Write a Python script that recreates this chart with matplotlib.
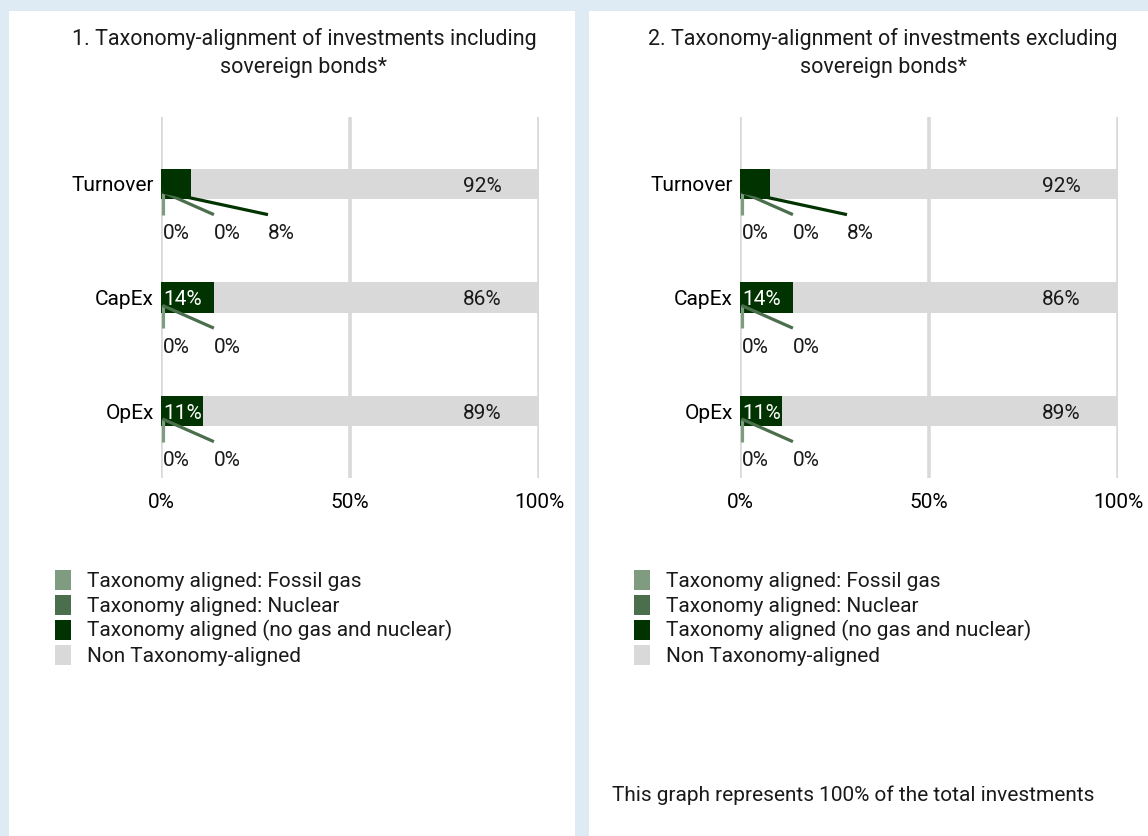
import numpy as np
import matplotlib
matplotlib.use('Agg')
import matplotlib.pyplot as plt
from matplotlib.patches import Rectangle, Patch

plt.rcParams['font.family'] = ['Roboto', 'DejaVu Sans']
plt.rcParams['font.size'] = 15
plt.rcParams['text.color'] = '#1a1a1a'

# data
categories = ['Turnover', 'CapEx', 'OpEx']
series_names = ['Taxonomy aligned: Fossil gas',
                'Taxonomy aligned: Nuclear',
                'Taxonomy aligned (no gas and nuclear)',
                'Non Taxonomy-aligned']
titles = ['1. Taxonomy-alignment of investments including\nsovereign bonds*',
          '2. Taxonomy-alignment of investments excluding\nsovereign bonds*']
# values in %, panel 1 (incl. sovereign bonds)
fossil_incl = [0, 0, 0]
nuclear_incl = [0, 0, 0]
aligned_incl = [8, 14, 11]
non_aligned_incl = [92, 86, 89]
# panel 2 (excl. sovereign bonds)
fossil_excl = [0, 0, 0]
nuclear_excl = [0, 0, 0]
aligned_excl = [8, 14, 11]
non_aligned_excl = [92, 86, 89]
footnote = 'This graph represents 100% of the total investments'

colors = ['#7f9c80', '#4b6f4c', '#003300', '#d9d9d9']
bg_blue = '#deebf5'

W, H = 1148, 836
fig = plt.figure(figsize=(W / 100, H / 100), dpi=100, facecolor=bg_blue)

# white panels (behind everything)
fig.patches.append(Rectangle((9 / W, 0), 566 / W, 825 / H, transform=fig.transFigure,
                             facecolor='white', edgecolor='none', zorder=-10))
fig.patches.append(Rectangle((589 / W, 0), 559 / W, 825 / H, transform=fig.transFigure,
                             facecolor='white', edgecolor='none', zorder=-10))

panels = [
    (161, titles[0], [fossil_incl, nuclear_incl, aligned_incl, non_aligned_incl]),
    (740, titles[1], [fossil_excl, nuclear_excl, aligned_excl, non_aligned_excl]),
]

# x positions (in %) of the labels pulled out of the bar with a leader line
out_slots = [0.4, 14, 28.3]

for x0, title, vals in panels:
    ax = fig.add_axes([x0 / W, 1 - 478 / H, 378 / W, 361 / H])
    ax.set_zorder(1)
    ax.set_facecolor('none')
    y = np.arange(len(categories))
    left = np.zeros(len(categories))
    for i, v in enumerate(vals):
        ax.barh(y, v, left=left, height=0.265, color=colors[i], zorder=2,
                label=series_names[i])
        left = left + np.array(v)

    # data labels
    for j in range(len(categories)):
        slot = 0
        for i in range(3):
            v = vals[i][j]
            if v >= 10:
                ax.text(0.5, y[j] + 0.02, f'{v}%', color='white', ha='left',
                        va='center', zorder=4)
            else:
                lx = out_slots[slot]
                ax.plot([0.4, lx], [y[j] + 0.07, y[j] + 0.27], color=colors[i],
                        lw=2.3, solid_capstyle='butt', zorder=3, clip_on=False)
                ax.text(lx, y[j] + 0.44, f'{v}%', ha='left', va='center', zorder=4)
                slot += 1
        ax.text(85, y[j] + 0.02, f'{vals[3][j]}%', ha='center', va='center', zorder=4)

    ax.set_xlim(0, 100)
    ax.set_ylim(2.59, -0.59)
    ax.set_xticks([0, 50, 100])
    ax.set_xticklabels(['0%', '50%', '100%'])
    ax.set_yticks(y)
    ax.set_yticklabels(categories)
    ax.tick_params(length=0)
    ax.tick_params(axis='x', pad=11)
    ax.tick_params(axis='y', pad=5)
    for s in ax.spines.values():
        s.set_visible(False)
    ax.grid(axis='x', color='#d9d9d9', lw=2.6, zorder=0)
    ax.set_axisbelow(True)

    fig.text((x0 + 143) / W, 1 - 53 / H, title, ha='center', va='center',
             fontsize=15.5, linespacing=1.4)

    handles = [Patch(facecolor=c, edgecolor='none') for c in colors]
    fig.legend(handles, series_names, loc='upper left',
               bbox_to_anchor=((x0 - 106) / W, 1 - 570 / H), frameon=False,
               borderpad=0, borderaxespad=0, handlelength=0.77, handleheight=1.1,
               labelspacing=0.18, handletextpad=0.77)

fig.text(612 / W, 1 - 795 / H, footnote, ha='left', va='center')

fig.savefig('out.png', dpi=100, facecolor=bg_blue)
